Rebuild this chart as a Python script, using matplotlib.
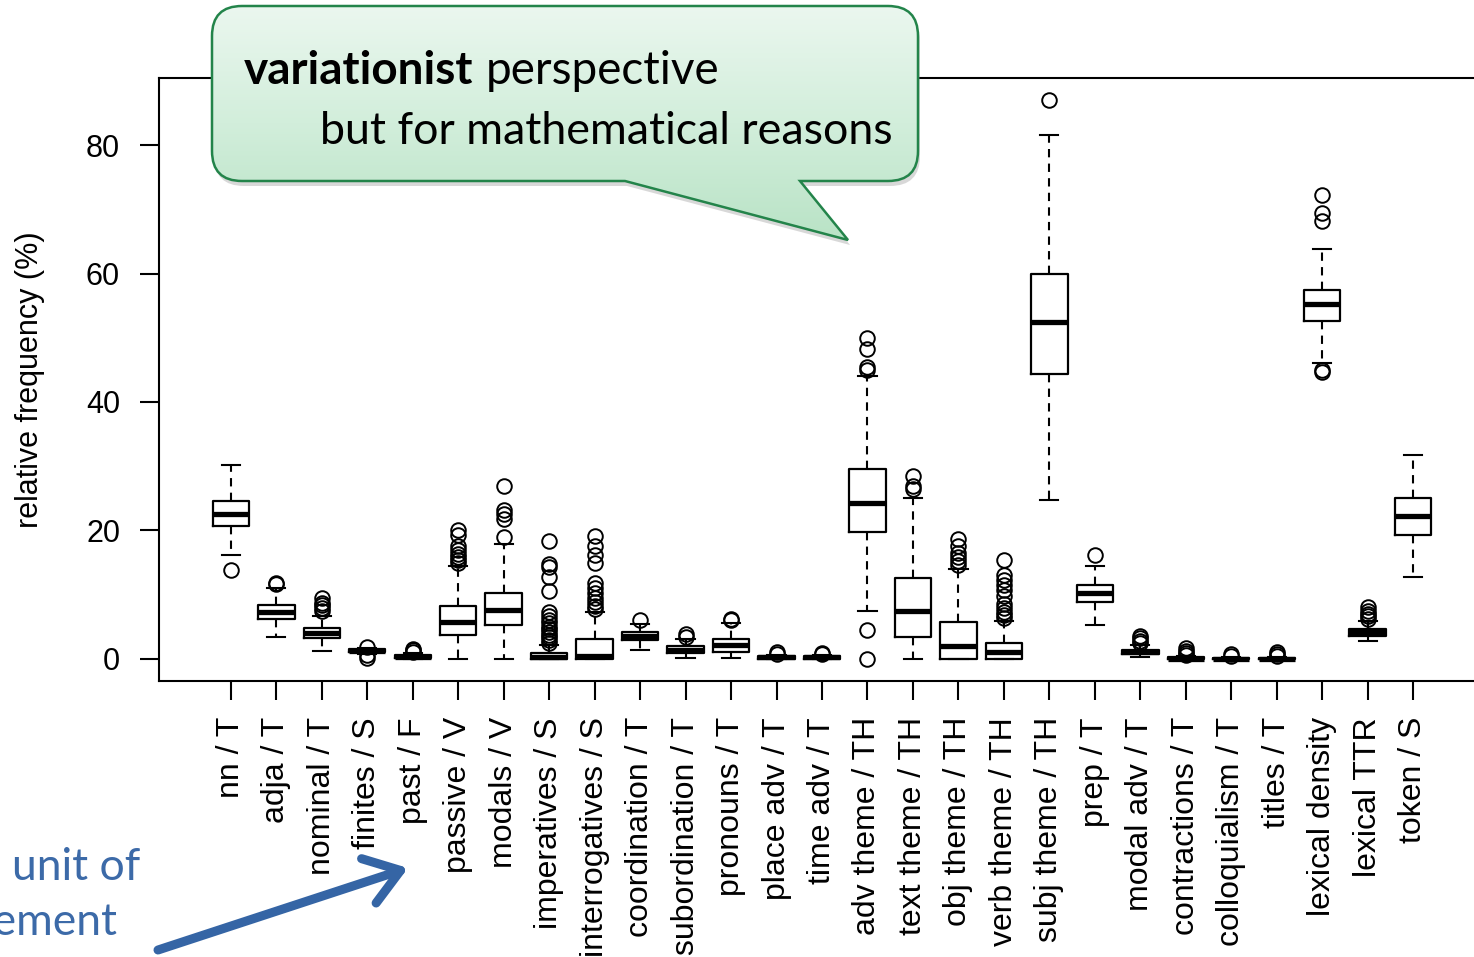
import numpy as np
import matplotlib
matplotlib.use('Agg')
import matplotlib.pyplot as plt
from matplotlib.path import Path
from matplotlib.patches import PathPatch
from matplotlib.colors import LinearSegmentedColormap

plt.rcParams['font.family'] = ['Liberation Sans', 'DejaVu Sans']

features = ['nn / T', 'adja / T', 'nominal / T', 'finites / S', 'past / F',
            'passive / V', 'modals / V', 'imperatives / S', 'interrogatives / S',
            'coordination / T', 'subordination / T', 'pronouns / T', 'place adv / T',
            'time adv / T', 'adv theme / TH', 'text theme / TH', 'obj theme / TH',
            'verb theme / TH', 'subj theme / TH', 'prep / T', 'modal adv / T',
            'contractions / T', 'colloquialism / T', 'titles / T', 'lexical density',
            'lexical TTR', 'token / S']

# five-number summaries per feature (relative frequency, %)
whislo = [16.1, 3.4, 1.25, 0.8, 0.0, 0.0, 0.0, 0.0, 0.0, 1.3, 0.1, 0.1, 0.0, 0.0,
          7.4, 0.0, 0.0, 0.0, 24.8, 5.3, 0.25, 0.0, 0.0, 0.0, 46.1, 2.7, 12.8]
q1 = [20.6, 6.2, 3.2, 1.0, 0.1, 3.7, 5.2, 0.0, 0.0, 2.9, 0.9, 1.1, 0.0, 0.0,
      19.7, 3.4, 0.0, 0.0, 44.4, 8.8, 0.8, 0.0, 0.0, 0.0, 52.6, 3.6, 19.3]
med = [22.6, 7.3, 4.0, 1.25, 0.3, 5.7, 7.6, 0.2, 0.4, 3.5, 1.4, 2.2, 0.2, 0.2,
       24.3, 7.5, 1.9, 1.1, 52.4, 10.2, 1.1, 0.0, 0.0, 0.0, 55.2, 4.1, 22.3]
q3 = [24.5, 8.3, 4.8, 1.45, 0.5, 8.2, 10.3, 0.9, 3.1, 4.1, 1.9, 3.1, 0.4, 0.4,
      29.6, 12.6, 5.7, 2.4, 60.0, 11.5, 1.4, 0.2, 0.1, 0.1, 57.5, 4.6, 25.1]
whishi = [30.1, 11.0, 6.6, 1.6, 0.9, 14.4, 17.9, 2.2, 7.3, 5.4, 3.0, 5.5, 0.6, 0.6,
          44.0, 25.0, 13.9, 5.8, 81.6, 14.5, 2.1, 0.4, 0.2, 0.2, 63.8, 5.8, 31.7]
outliers = [
    [13.8],
    [11.6, 11.8],
    [7.4, 7.9, 8.3, 8.7, 9.4],
    [0.1, 0.6, 1.8],
    [1.1, 1.3, 1.5],
    [14.9, 15.3, 15.8, 16.3, 16.9, 17.5, 19.2, 20.0],
    [19.0, 21.7, 22.6, 23.2, 26.9],
    [2.5, 2.9, 3.3, 3.7, 4.1, 4.6, 5.0, 5.5, 6.0, 6.6, 7.2, 10.6, 12.8, 14.3, 14.8, 18.3],
    [7.8, 8.2, 8.8, 9.5, 10.2, 11.0, 11.8, 14.9, 16.2, 17.5, 19.1],
    [6.1],
    [3.4, 3.9],
    [6.0, 6.2],
    [0.8, 1.0],
    [0.7, 0.9],
    [0.0, 4.4, 45.0, 45.4, 48.2, 50.0],
    [26.4, 26.9, 28.5],
    [14.6, 15.2, 15.8, 16.5, 17.5, 18.6],
    [6.3, 6.8, 7.3, 7.9, 8.5, 9.8, 10.7, 11.5, 12.3, 13.0, 15.4],
    [87.0],
    [16.2],
    [2.5, 2.8, 3.2, 3.5],
    [0.6, 0.9, 1.2, 1.6],
    [0.4, 0.7],
    [0.4, 0.8, 1.0],
    [44.7, 45.0, 68.2, 69.5, 72.2],
    [6.2, 6.6, 7.0, 7.5, 8.0],
    [],
]
yticks = [0, 20, 40, 60, 80]

stats = []
for i, name in enumerate(features):
    stats.append(dict(label=name, whislo=whislo[i], q1=q1[i], med=med[i],
                      q3=q3[i], whishi=whishi[i], fliers=outliers[i]))

W, H = 1474, 957
fig = plt.figure(figsize=(W / 100, H / 100), dpi=100)

# plot region runs past the right edge of the figure
ax = fig.add_axes([159 / W, (H - 681) / H, (1485 - 159) / W, (681 - 78) / H])
pos = np.arange(1, len(features) + 1)
ax.bxp(stats, positions=pos, widths=0.8, capwidths=0.4, showfliers=True,
       boxprops=dict(color='black', lw=1.6),
       medianprops=dict(color='black', lw=3.8, solid_capstyle='butt'),
       whiskerprops=dict(color='black', lw=1.5, linestyle=(0, (4, 3))),
       capprops=dict(color='black', lw=1.5),
       flierprops=dict(marker='o', markerfacecolor='none', markeredgecolor='black',
                       markersize=10.5, markeredgewidth=1.4))
ax.set_xlim(-0.58, 28.58)
ax.set_ylim(-3.48, 90.48)
ax.set_yticks(yticks)
ax.set_yticklabels([str(t) for t in yticks], fontsize=22)
ax.set_xticks(pos)
ax.set_xticklabels(features, rotation=90, fontsize=23, va='top', ha='center')
ax.tick_params(axis='both', direction='out', length=14, width=1.5)
ax.tick_params(axis='y', pad=14)
ax.tick_params(axis='x', pad=12)
ax.set_ylabel('relative frequency (%)', fontsize=22)
ax.yaxis.set_label_coords(-0.086, 0.5)
for s in ax.spines.values():
    s.set_linewidth(1.5)

# overlay in pixel coordinates for the speech bubble and side note
ov = fig.add_axes([0, 0, 1, 1])
ov.set_xlim(0, W)
ov.set_ylim(H, 0)
ov.set_axis_off()


def bubble_path(x0, y0, x1, y1, r, tail_l, tail_r, tip):
    verts = [(x0 + r, y0), (x1 - r, y0), (x1, y0), (x1, y0 + r),
             (x1, y1 - r), (x1, y1), (x1 - r, y1),
             (tail_r, y1), tip, (tail_l, y1),
             (x0 + r, y1), (x0, y1), (x0, y1 - r),
             (x0, y0 + r), (x0, y0), (x0 + r, y0), (x0 + r, y0)]
    codes = [Path.MOVETO, Path.LINETO, Path.CURVE3, Path.CURVE3,
             Path.LINETO, Path.CURVE3, Path.CURVE3,
             Path.LINETO, Path.LINETO, Path.LINETO,
             Path.LINETO, Path.CURVE3, Path.CURVE3,
             Path.LINETO, Path.CURVE3, Path.CURVE3, Path.CLOSEPOLY]
    return Path(verts, codes)


bpath = bubble_path(212, 6, 918, 181, 30, 625, 800, (848, 240))
shadow = PathPatch(bpath.transformed(matplotlib.transforms.Affine2D().translate(2, 5)),
                   transform=ov.transData, facecolor='#7f7f7f', edgecolor='none', alpha=0.3)
ov.add_patch(shadow)
fill = PathPatch(bpath, transform=ov.transData, facecolor='none', edgecolor='none')
ov.add_patch(fill)
greens = LinearSegmentedColormap.from_list('bubble', ['#ebf7ef', '#d2eedb', '#b9e3c6'])
grad = np.linspace(0, 1, 256).reshape(-1, 1)
img = ov.imshow(grad, cmap=greens, extent=[212, 918, 240, 6], origin='upper',
                aspect='auto', zorder=2)
img.set_clip_path(fill)
edge = PathPatch(bpath, transform=ov.transData, facecolor='none',
                 edgecolor='#23844a', lw=1.8, zorder=3)
ov.add_patch(edge)
ov.set_xlim(0, W)
ov.set_ylim(H, 0)

bold_word = ov.text(244, 84, 'variationist', fontsize=33, fontweight='bold', family='Lato',
                    va='baseline', ha='left', zorder=4)
# put the regular word right after the bold one
renderer = fig.canvas.get_renderer()
bb = bold_word.get_window_extent(renderer)
x_after = ov.transData.inverted().transform((bb.x1, bb.y0))[0] + 12
ov.text(x_after, 84, 'perspective', fontsize=33, family='Lato',
        va='baseline', ha='left', zorder=4)
ov.text(320, 144, 'but for mathematical reasons', fontsize=32.2, family='Lato',
        va='baseline', ha='left', zorder=4)

note_blue = '#3c6aa8'
ov.text(140, 880, 'unit of', fontsize=32, family='Lato', color=note_blue,
        va='baseline', ha='right')
ov.text(118, 935, 'measurement', fontsize=32, family='Lato', color=note_blue,
        va='baseline', ha='right')
ov.annotate('', xy=(408, 868), xytext=(158, 950),
            arrowprops=dict(arrowstyle='->,head_length=0.6,head_width=0.42',
                            lw=6.5, color='#3565a5', mutation_scale=40,
                            shrinkA=0, shrinkB=0))

fig.savefig('out.png', dpi=100)
